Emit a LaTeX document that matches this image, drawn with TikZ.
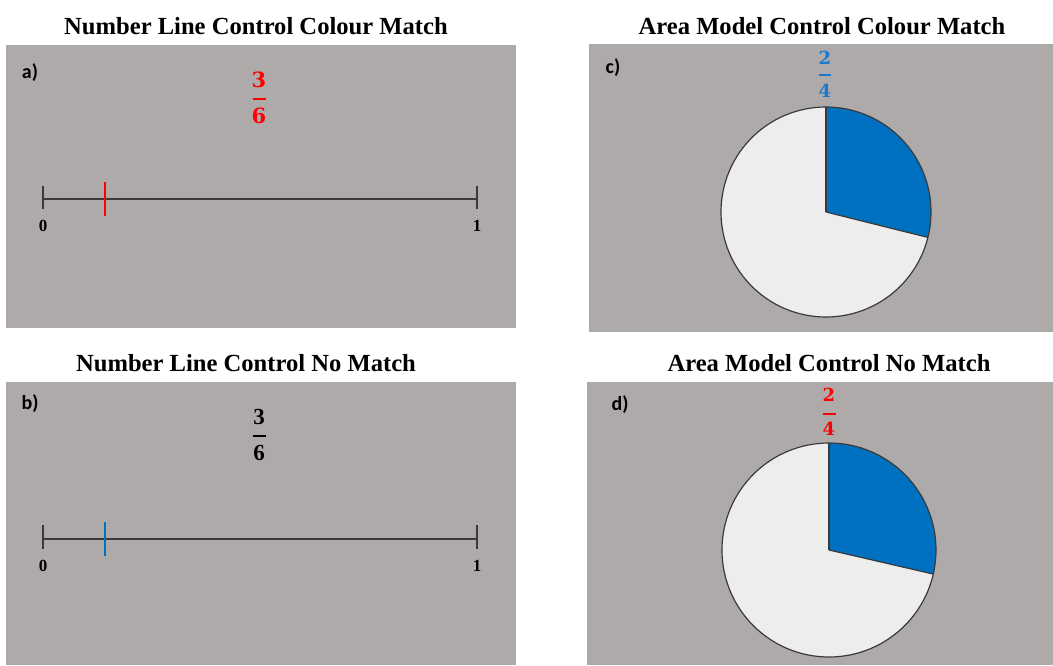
\documentclass[tikz,border=0pt]{standalone}
\usepackage{fontspec}
\setmainfont{Liberation Serif}
\newfontfamily\labelfont{Carlito}
\newfontfamily\fracfont{DejaVu Serif}
\definecolor{panelgray}{HTML}{AEAAAA}
\definecolor{sliceblue}{HTML}{0070C0}
\definecolor{fracblue}{HTML}{1C78CC}
\definecolor{piefill}{HTML}{EDEDED}
\definecolor{linegray}{HTML}{3A3A3A}
\begin{document}
\begin{tikzpicture}[x=1pt,y=1pt,
  panel/.style={fill=panelgray,draw=none},
  title/.style={font=\fontsize{24.6}{28}\selectfont\bfseries,inner sep=0pt},
  tag/.style={font=\labelfont\fontsize{20}{23}\selectfont\bfseries,inner sep=0pt},
  endlabel/.style={font=\fontsize{17}{20}\selectfont\bfseries,inner sep=0pt},
  numline/.style={draw=linegray,line width=1.6pt},
  endtick/.style={draw=linegray,line width=1.3pt},
  marktick/.style={line width=2.8pt},
  fracdigit/.style={font=\fracfont\fontsize{21}{24}\selectfont\bfseries,inner sep=0pt},
  smallfrac/.style={font=\fracfont\fontsize{18}{21}\selectfont\bfseries,inner sep=0pt},
  fracbar/.style={line width=1.5pt},
  pieline/.style={draw=linegray,line width=1.2pt}]
\useasboundingbox[fill=white] (0,0) rectangle (1053,-665);

% ---------- panel a: number line, colour match ----------
\fill[panel] (6,-45) rectangle (516,-328);
\node[title] (ta) at (256,-26) {Number Line Control Colour Match};
\node[tag] (la) at (30,-73) {a)};
\node[fracdigit,text=red] (na) at (259,-80) {3};
\node[fracdigit,text=red] (da) at (259,-116) {6};
\draw[fracbar,red] (252.5,-99) -- (265.5,-99);
\coordinate (a0) at (43,-199);
\coordinate (a1) at (477,-199);
\coordinate (am) at (105,-199);
\draw[numline] (a0) -- (a1);
\draw[endtick] ([yshift=13pt]a0) -- ([yshift=-10pt]a0);
\draw[endtick] ([yshift=13pt]a1) -- ([yshift=-10pt]a1);
\draw[marktick,red] ([yshift=17pt]am) -- ([yshift=-17pt]am);
\node[endlabel] (a0l) at (43,-226) {0};
\node[endlabel] (a1l) at (477,-226) {1};

% ---------- panel b: number line, no match ----------
\fill[panel] (6,-382) rectangle (516,-665);
\node[title] (tb) at (246,-363) {Number Line Control No Match};
\node[tag] (lb) at (30,-404) {b)};
\node[endlabel,font=\fontsize{23}{26}\selectfont\bfseries] (nb) at (259,-417) {3};
\node[endlabel,font=\fontsize{23}{26}\selectfont\bfseries] (db) at (259,-453) {6};
\draw[fracbar,black] (252.5,-436) -- (265.5,-436);
\coordinate (b0) at (43,-539);
\coordinate (b1) at (477,-539);
\coordinate (bm) at (105,-539);
\draw[numline] (b0) -- (b1);
\draw[endtick] ([yshift=14pt]b0) -- ([yshift=-10pt]b0);
\draw[endtick] ([yshift=14pt]b1) -- ([yshift=-10pt]b1);
\draw[marktick,sliceblue] ([yshift=17pt]bm) -- ([yshift=-17pt]bm);
\node[endlabel] (b0l) at (43,-566) {0};
\node[endlabel] (b1l) at (477,-566) {1};

% ---------- panel c: area model, colour match ----------
\fill[panel] (589,-44) rectangle (1053,-332);
\node[title] (tc) at (822,-26) {Area Model Control Colour Match};
\node[tag] (lc) at (613,-68) {c)};
\node[smallfrac,text=fracblue] (nc) at (825,-58) {2};
\node[smallfrac,text=fracblue] (dc) at (825,-91) {4};
\draw[fracbar,fracblue] (819,-75) -- (831,-75);
\coordinate (pc) at (826,-212);
\fill[piefill] (pc) circle[radius=105];
\fill[sliceblue] (pc) -- ++(90:105) arc[start angle=90,end angle=-14,radius=105] -- cycle;
\draw[pieline] (pc) -- ++(90:105);
\draw[pieline] (pc) -- ++(-14:105);
\draw[pieline] (pc) circle[radius=105];

% ---------- panel d: area model, no match ----------
\fill[panel] (587,-382) rectangle (1053,-665);
\node[title] (td) at (829,-363) {Area Model Control No Match};
\node[tag] (ld) at (620,-405) {d)};
\node[smallfrac,text=red] (nd) at (829,-395) {2};
\node[smallfrac,text=red] (dd) at (829,-429) {4};
\draw[fracbar,red] (822.5,-414) -- (835.5,-414);
\coordinate (pd) at (829,-550);
\fill[piefill] (pd) circle[radius=107];
\fill[sliceblue] (pd) -- ++(90:107) arc[start angle=90,end angle=-13,radius=107] -- cycle;
\draw[pieline] (pd) -- ++(90:107);
\draw[pieline] (pd) -- ++(-13:107);
\draw[pieline] (pd) circle[radius=107];
\end{tikzpicture}
\end{document}
